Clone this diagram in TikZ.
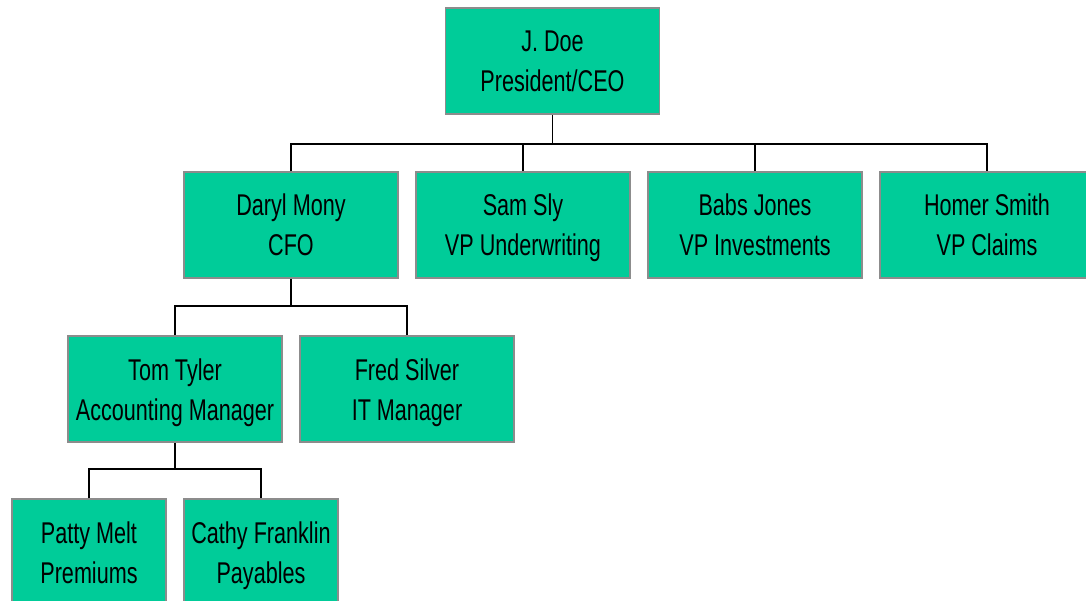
\documentclass[tikz,border=0pt]{standalone}
\usepackage{fontspec}
\setmainfont[FakeStretch=0.72]{Liberation Sans}
\definecolor{boxgreen}{HTML}{00CC99}
\definecolor{boxborder}{HTML}{8C8C8C}
\newcommand{\lnstrut}{\rule[-9pt]{0pt}{40pt}}
\newcommand{\twolines}[2]{#1\lnstrut\\#2\lnstrut}
\begin{document}
\begin{tikzpicture}[x=1pt,y=-1pt,
  person/.style={draw=boxborder,line width=1.6pt,fill=boxgreen,minimum height=106pt,
    inner sep=0pt,align=center,font=\fontsize{30}{40}\selectfont,text=black},
  wide/.style={person,minimum width=214pt},
  narrow/.style={person,minimum width=154pt},
  link/.style={draw=black,line width=1.6pt}]
\fill[white] (0,0) rectangle (1086,601);
\begin{scope}
\clip (0,0) rectangle (1086,601);
\node[wide] (doe) at (552.5,61) {\twolines{J. Doe}{President/CEO}};
\node[wide] (daryl) at (291,225) {\twolines{Daryl Mony}{CFO}};
\node[wide] (sam) at (523,225) {\twolines{Sam Sly}{VP Underwriting}};
\node[wide] (babs) at (755,225) {\twolines{Babs Jones}{VP Investments}};
\node[wide] (homer) at (987,225) {\twolines{Homer Smith}{VP Claims}};
\node[wide] (tom) at (175,389) {\twolines{Tom Tyler}{Accounting Manager}};
\node[wide] (fred) at (407,389) {\twolines{Fred Silver}{IT Manager}};
\node[narrow] (patty) at (89,552) {\twolines{Patty Melt}{Premiums}};
\node[narrow] (cathy) at (261,552) {\twolines{Cathy Franklin}{Payables}};
\coordinate (b1) at (552.5,144);
\coordinate (b2) at (291,306);
\coordinate (b3) at (175,469);
\draw[link] (doe.south) -- (b1);
\draw[link] (daryl.north) |- (b1) -| (homer.north);
\draw[link] (sam.north) -- (sam.north |- b1);
\draw[link] (babs.north) -- (babs.north |- b1);
\draw[link] (daryl.south) -- (b2);
\draw[link] (tom.north) |- (b2) -| (fred.north);
\draw[link] (tom.south) -- (b3);
\draw[link] (patty.north) |- (b3) -| (cathy.north);
\end{scope}
\useasboundingbox (0,0) rectangle (1086,601);
\end{tikzpicture}
\end{document}
